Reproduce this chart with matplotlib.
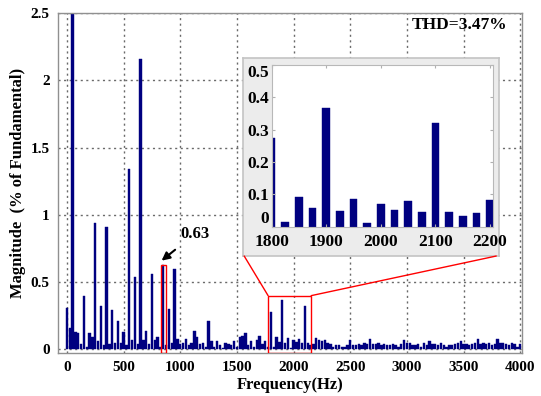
import numpy as np
import matplotlib
matplotlib.use("Agg")
import matplotlib.pyplot as plt
from matplotlib.patches import Rectangle, ConnectionPatch

plt.rcParams['font.family'] = ['Liberation Serif', 'DejaVu Serif']
plt.rcParams['font.weight'] = 'bold'

# Harmonic spectrum, one value every 25 Hz from 0 to 4000 Hz (% of fundamental)
bin_step = 25
magnitude = [
    # 0 - 475 Hz
    0.31, 0.16, 100.0, 0.13, 0.12, 0.04, 0.40, 0.02, 0.12, 0.09,
    0.94, 0.06, 0.32, 0.03, 0.91, 0.04, 0.29, 0.05, 0.21, 0.05,
    # 500 - 975 Hz
    0.13, 0.03, 1.34, 0.07, 0.54, 0.04, 2.16, 0.07, 0.14, 0.04,
    0.56, 0.07, 0.09, 0.02, 0.63, 0.03, 0.30, 0.05, 0.60, 0.08,
    # 1000 - 1475 Hz
    0.04, 0.05, 0.08, 0.03, 0.05, 0.14, 0.09, 0.04, 0.05, 0.02,
    0.21, 0.06, 0.02, 0.06, 0.03, 0.01, 0.05, 0.04, 0.03, 0.06,
    # 1500 - 1975 Hz
    0.02, 0.09, 0.10, 0.12, 0.03, 0.06, 0.02, 0.07, 0.10, 0.04,
    0.06, 0.02, 0.275, 0.015, 0.093, 0.058, 0.368, 0.048, 0.087, 0.010,
    # 2000 - 2475 Hz
    0.070, 0.052, 0.078, 0.046, 0.320, 0.046, 0.032, 0.042, 0.082, 0.07,
    0.06, 0.07, 0.05, 0.04, 0.02, 0.03, 0.03, 0.02, 0.02, 0.03,
    # 2500 - 2975 Hz
    0.07, 0.03, 0.03, 0.04, 0.03, 0.05, 0.04, 0.08, 0.04, 0.04,
    0.05, 0.03, 0.04, 0.03, 0.03, 0.04, 0.03, 0.02, 0.04, 0.07,
    # 3000 - 3475 Hz
    0.05, 0.05, 0.03, 0.03, 0.04, 0.02, 0.05, 0.03, 0.06, 0.04,
    0.04, 0.03, 0.05, 0.03, 0.02, 0.03, 0.03, 0.04, 0.05, 0.06,
    # 3500 - 4000 Hz
    0.04, 0.04, 0.03, 0.04, 0.05, 0.08, 0.04, 0.05, 0.04, 0.05,
    0.03, 0.04, 0.08, 0.05, 0.05, 0.04, 0.03, 0.05, 0.04, 0.02,
    0.04,
]
freq = np.arange(len(magnitude)) * bin_step
magnitude = np.array(magnitude)

thd_text = "THD=3.47%"
marked_freq = 850
zoom_range = (1800, 2200)

bar_color = '#000080'
grid_color = '#6a6a6a'
spine_color = '#909090'

fig = plt.figure(figsize=(5.41, 3.96), dpi=100)
ax = fig.add_axes([0.107, 0.109, 0.858, 0.858])
ax.bar(freq, magnitude, width=20, color=bar_color, edgecolor=bar_color, linewidth=0.3, zorder=2)
ax.set_xlim(-80, 4016)
ax.set_ylim(-0.025, 2.5)
ax.set_xticks(np.arange(0, 4001, 500))
ax.set_yticks([0, 0.5, 1, 1.5, 2, 2.5])
ax.set_yticklabels(['0', '0.5', '1', '1.5', '2', '2.5'])
ax.grid(True, color=grid_color, linestyle=(0, (1.5, 2.5)), linewidth=1.0, zorder=0)
ax.tick_params(direction='in', length=0, labelsize=11, pad=6)
for s in ax.spines.values():
    s.set_color(spine_color)
    s.set_linewidth(1.0)
ax.set_xlabel("Frequency(Hz)", fontsize=12, fontweight='bold', labelpad=2)
ax.set_ylabel("Magnitude  (% of Fundamental)", fontsize=12, fontweight='bold', labelpad=3)

# highlight the 17th harmonic
mval = magnitude[freq == marked_freq][0]
ax.add_patch(Rectangle((marked_freq - 20, -0.025), 40, mval + 0.025, fill=False,
                       edgecolor='red', linewidth=1.0, zorder=3))
ax.annotate(f"{mval:.2f}", xy=(marked_freq - 15, mval + 0.03), xytext=(1130, 0.86),
            fontsize=12, fontweight='bold', ha='center', va='center',
            arrowprops=dict(arrowstyle='-|>', color='black', lw=1.5, mutation_scale=12,
                            shrinkA=6, shrinkB=0))

ax.text(0.968, 0.988, thd_text, transform=ax.transAxes, fontsize=12.5,
        fontweight='bold', ha='right', va='top')

# zoom box on the main axes
box_lo, box_hi, box_top = 1775, 2155, 0.40
ax.add_patch(Rectangle((box_lo, -0.025), box_hi - box_lo, box_top + 0.025, fill=False,
                       edgecolor='red', linewidth=1.0, zorder=3))

# inset panel with light grey backing
frame = fig.add_axes([0.449, 0.3535, 0.473, 0.5])
frame.set_facecolor('#ececec')
frame.set_xticks([])
frame.set_yticks([])
for s in frame.spines.values():
    s.set_color('#c4c4c4')
    s.set_linewidth(1.2)

ins = fig.add_axes([0.502, 0.4275, 0.409, 0.4085])
sel = (freq >= zoom_range[0]) & (freq <= zoom_range[1])
ins.bar(freq[sel], magnitude[sel], width=14, color=bar_color, edgecolor=bar_color, linewidth=0.3)
ins.set_xlim(zoom_range[0], 2205)
ins.set_ylim(0, 0.5)
ins.set_xticks([1800, 1900, 2000, 2100, 2200])
ins.set_yticks([0, 0.1, 0.2, 0.3, 0.4, 0.5])
ins.set_yticklabels(['0', '0.1', '0.2', '0.3', '0.4', '0.5'])
ins.tick_params(direction='in', length=2, labelsize=12.5, top=True, right=True,
                color='#b0b0b0')
ins.tick_params(axis='x', pad=5)
ins.tick_params(axis='y', pad=2)
# keep the end labels inside the axis height
yticks = ins.yaxis.get_major_ticks()
yticks[0].label1.set_va('bottom')
yticks[-1].label1.set_va('top')
for s in ins.spines.values():
    s.set_color('#b8b8b8')
    s.set_linewidth(0.8)

# red lines from the zoom box to the inset frame
for (xa, xb) in [((box_lo, box_top), (0.005, 0.0)), ((box_hi, box_top), (0.99, 0.0))]:
    con = ConnectionPatch(xyA=xa, coordsA=ax.transData, xyB=xb, coordsB=frame.transAxes,
                          color='red', linewidth=1.0)
    fig.add_artist(con)

fig.savefig("out.png", dpi=100)
